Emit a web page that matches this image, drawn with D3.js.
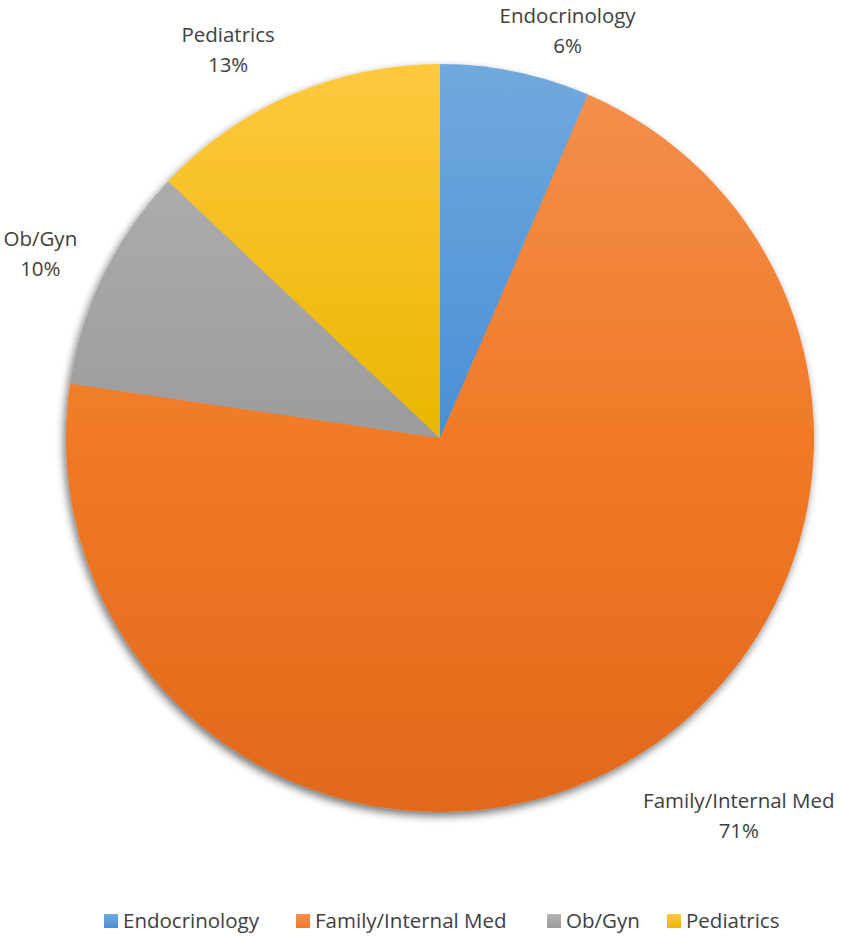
<!DOCTYPE html>
<html>
<head>
<meta charset="utf-8">
<script src="https://cdn.jsdelivr.net/npm/d3@7"></script>
<style>
  html, body { margin: 0; padding: 0; background: #fff; }
  svg { display: block; }
  text { font-family: "Open Sans", "Noto Sans", sans-serif; fill: #404040; }
</style>
</head>
<body>
<svg id="chart" width="841" height="938"></svg>
<script>
// Referrals by specialty
const categories = ["Endocrinology", "Family/Internal Med", "Ob/Gyn", "Pediatrics"];
const counts = [16, 175, 24, 32];
// gradient stops: top of pie, centre, bottom of pie
const colorsTop = ["#70a9dd", "#f4904f", "#b3b3b3", "#ffc83f"];
const colorsMid = ["#4a8fd6", "#f07a27", "#9c9c9c", "#eab600"];
const colorsBottom = ["#3a80c8", "#e2681a", "#8c8c8c", "#d9a800"];

const W = 841, H = 938;
const cx = 440, cy = 438, R = 374;

const svg = d3.select("#chart");
const defs = svg.append("defs");

// soft drop shadow under the pie
const filt = defs.append("filter").attr("id", "shadow")
  .attr("x", "-10%").attr("y", "-10%").attr("width", "120%").attr("height", "120%");
filt.append("feGaussianBlur").attr("in", "SourceAlpha").attr("stdDeviation", 4).attr("result", "b");
filt.append("feOffset").attr("in", "b").attr("dx", -2).attr("dy", 4).attr("result", "o");
filt.append("feComponentTransfer").attr("in", "o").attr("result", "s")
  .append("feFuncA").attr("type", "linear").attr("slope", 0.55);
const merge = filt.append("feMerge");
merge.append("feMergeNode").attr("in", "s");
merge.append("feMergeNode").attr("in", "SourceGraphic");

// vertical gradient per slice, spanning the whole pie
categories.forEach((c, i) => {
  const g = defs.append("linearGradient").attr("id", "grad" + i)
    .attr("gradientUnits", "userSpaceOnUse")
    .attr("x1", 0).attr("y1", -R).attr("x2", 0).attr("y2", R);
  g.append("stop").attr("offset", "0%").attr("stop-color", colorsTop[i]);
  g.append("stop").attr("offset", "50%").attr("stop-color", colorsMid[i]);
  g.append("stop").attr("offset", "100%").attr("stop-color", colorsBottom[i]);
});

const total = d3.sum(counts);
const pie = d3.pie().sort(null).value(d => d)(counts);
const arc = d3.arc().innerRadius(0).outerRadius(R);

const pieG = svg.append("g").attr("transform", `translate(${cx},${cy})`);
const slicesG = pieG.append("g").attr("filter", "url(#shadow)");
slicesG.selectAll("path").data(pie).join("path")
  .attr("d", arc)
  .attr("fill", (d, i) => `url(#grad${i})`);

// data labels placed outside the pie, along each slice's bisector
const labelLayout = [
  { dAngle: 0.1, r: 427 },
  { dAngle: -0.16, r: 482 },
  { dAngle: -0.02, r: 440 },
  { dAngle: -0.093, r: 442 }
];
const labelG = pieG.append("g");
pie.forEach((d, i) => {
  const a = (d.startAngle + d.endAngle) / 2 + labelLayout[i].dAngle;
  const x = Math.sin(a) * labelLayout[i].r;
  const y = -Math.cos(a) * labelLayout[i].r;
  const t = labelG.append("text").attr("text-anchor", "middle")
    .attr("font-size", 20.5);
  t.append("tspan").attr("x", x).attr("y", y - 8).text(categories[i]);
  t.append("tspan").attr("x", x).attr("y", y + 22)
    .text(Math.round(counts[i] / total * 100) + "%");
});

// legend along the bottom
const legendStarts = [104, 296, 547, 667];
const legend = svg.append("g").attr("transform", "translate(0, 921)");
categories.forEach((c, i) => {
  const lg = defs.append("linearGradient").attr("id", "lgrad" + i)
    .attr("x1", 0).attr("y1", 0).attr("x2", 0).attr("y2", 1);
  lg.append("stop").attr("offset", "0%").attr("stop-color", colorsTop[i]);
  lg.append("stop").attr("offset", "100%").attr("stop-color", colorsMid[i]);
  const g = legend.append("g").attr("transform", `translate(${legendStarts[i]},0)`);
  g.append("rect").attr("x", 0).attr("y", -7).attr("width", 14).attr("height", 14)
    .attr("fill", `url(#lgrad${i})`);
  g.append("text").attr("x", 19).attr("y", 0).attr("dy", "0.35em")
    .attr("font-size", 20.5).text(c);
});
</script>
</body>
</html>
